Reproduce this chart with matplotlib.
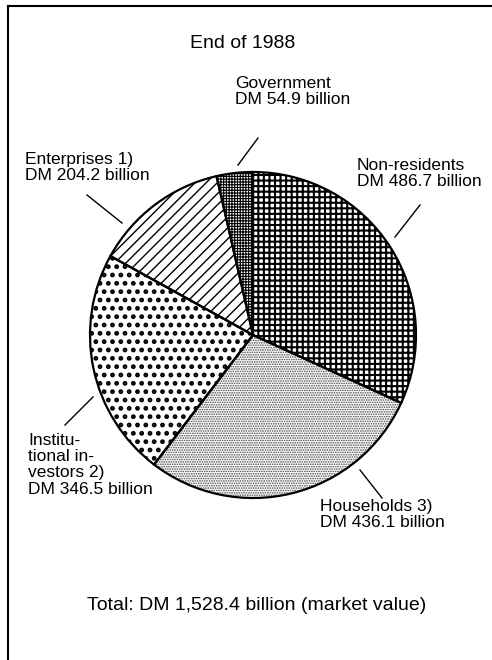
import matplotlib
matplotlib.use("Agg")
import matplotlib.pyplot as plt
from matplotlib.lines import Line2D

plt.rcParams['font.family'] = ['Liberation Sans', 'DejaVu Sans']

# ---- data ----
categories = ["Non-residents", "Households 3)", "Institutional investors 2)",
              "Enterprises 1)", "Government"]
values = [486.7, 436.1, 346.5, 204.2, 54.9]
label_texts = [
    "Non-residents\nDM 486.7 billion",
    "Households 3)\nDM 436.1 billion",
    "Institu-\ntional in-\nvestors 2)\nDM 346.5 billion",
    "Enterprises 1)\nDM 204.2 billion",
    "Government\nDM 54.9 billion",
]
title = "End of 1988"
total_text = "Total: DM 1,528.4 billion (market value)"

# ---- styles ----
W, H = 492, 660
hatches = ['+++', '.......', '..', '///', '++++++']
hatch_colors = ['black', '#444444', 'black', 'black', 'black']
hatch_lw = [1.5, 0.8, 2.2, 1.0, 0.8]

fig = plt.figure(figsize=(W / 100, H / 100), dpi=100)
ax = fig.add_axes([0, 0, 1, 1])

def Y(y):
    return H - y

center = (253, Y(335))
radius = 163

# hatched fills (no outline)
wedges, _ = ax.pie(values, center=center, radius=radius, startangle=90,
                   counterclock=False,
                   wedgeprops=dict(facecolor='white', linewidth=0))
for w, h, c, lw in zip(wedges, hatches, hatch_colors, hatch_lw):
    w.set_hatch(h)
    w.set_edgecolor(c)
    w.set_linewidth(0)
    if hasattr(w, 'set_hatch_linewidth'):
        w.set_hatch_linewidth(lw)

# outlines
ax.pie(values, center=center, radius=radius, startangle=90, counterclock=False,
       wedgeprops=dict(facecolor='none', edgecolor='black', linewidth=1.6))

ax.set_xlim(0, W)
ax.set_ylim(0, H)
ax.set_aspect('equal')
ax.axis('off')

fs = 12.5
# label positions (top-left anchors, pixel coords) and leader lines
label_pos = [(357, 158), (320, 499), (28, 433), (25, 152), (235, 76)]
leaders = [((420, 205), (395, 237)),
           ((382, 498), (360, 470)),
           ((65, 425), (93, 397)),
           ((87, 195), (122, 223)),
           ((258, 138), (238, 165))]
for txt, (x, y), ((x1, y1), (x2, y2)) in zip(label_texts, label_pos, leaders):
    ax.text(x, Y(y), txt, fontsize=fs, ha='left', va='top', linespacing=1.1)
    ax.plot([x1, x2], [Y(y1), Y(y2)], color='black', lw=1.0)

ax.text(243, Y(44), title, fontsize=14, ha='center', va='center')
ax.text(257, Y(605), total_text, fontsize=14, ha='center', va='center')

# frame (left and top border)
ax.add_line(Line2D([8, 8], [Y(6), 0], color='black', lw=1.5))
ax.add_line(Line2D([8, W], [Y(6), Y(6)], color='black', lw=1.5))

fig.savefig('out.png', dpi=100)
